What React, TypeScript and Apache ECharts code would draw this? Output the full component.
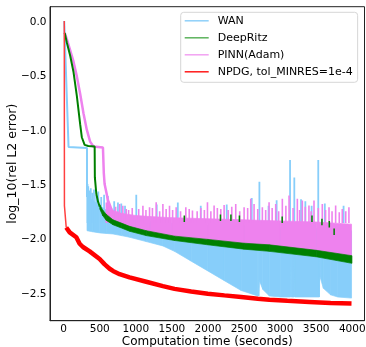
import React, { useEffect, useRef } from "react";
import * as echarts from "echarts";

const X_TICKS = [0, 500, 1000, 1500, 2000, 2500, 3000, 3500, 4000];
const Y_TICKS = [-2.5, -2.0, -1.5, -1.0, -0.5, 0.0];

const SERIES_NAMES = ["WAN", "DeepRitz", "PINN(Adam)", "NPDG, tol_MINRES=1e-4"];

// WAN (light blue)
const WAN_EARLY = [[7, 0.0], [67, -1.16], [323, -1.17], [323, -1.62]];
const WAN_T = [323, 400, 500, 590, 683, 800, 913, 1144, 1375, 1536, 1767, 1998, 2228, 2460, 2689, 2705, 2713, 2760, 2851, 3000, 3145, 3150, 3156, 3192, 3197, 3203, 3545, 3550, 3556, 3600, 3700, 3800, 3990];
const WAN_LO = [-1.93, -1.94, -1.95, -1.955, -1.96, -1.975, -1.99, -2.03, -2.07, -2.12, -2.21, -2.30, -2.39, -2.48, -2.53, -2.53, -2.39, -2.47, -2.53, -2.54, -2.54, -2.16, -2.54, -2.54, -2.16, -2.54, -2.54, -2.21, -2.36, -2.46, -2.52, -2.54, -2.55];
const WAN_HI = [-1.62, -1.65, -1.70, -1.74, -1.78, -1.80, -1.82, -1.84, -1.85, -1.86, -1.87, -1.88, -1.88, -1.89, -1.89, -1.89, -1.89, -1.89, -1.90, -1.90, -1.90, -1.90, -1.90, -1.90, -1.90, -1.90, -1.91, -1.91, -1.91, -1.91, -1.92, -1.92, -1.93];
const WAN_SPIKES = [[330, -1.50], [340, -1.52], [355, -1.56], [375, -1.54], [395, -1.58], [420, -1.55], [450, -1.60], [480, -1.57], [520, -1.62], [560, -1.60], [613, -1.61], [700, -1.66], [752, -1.67], [798, -1.68], [850, -1.70], [1006, -1.60], [1290, -1.69], [1582, -1.67], [1900, -1.70], [2260, -1.69], [2607, -1.63], [2713, -1.48], [2840, -1.70], [2952, -1.65], [3138, -1.28], [3197, -1.44], [3290, -1.64], [3350, -1.66], [3437, -1.70], [3529, -1.28], [3620, -1.68], [3880, -1.70]];

// DeepRitz (green)
const DR_EARLY = [[14, -0.11], [44, -0.2], [90, -0.32], [136, -0.47], [182, -0.69], [228, -0.95], [251, -1.07], [290, -1.14], [340, -1.15], [429, -1.155], [432, -1.44], [452, -1.59], [475, -1.66], [500, -1.71]];
const DR_T = [500, 540, 591, 683, 800, 913, 1144, 1536, 2000, 2500, 2851, 3500, 3996];
const DR_HI = [-1.69, -1.74, -1.78, -1.83, -1.86, -1.89, -1.93, -1.98, -2.01, -2.045, -2.06, -2.11, -2.16];
const DR_LO = [-1.73, -1.79, -1.835, -1.875, -1.905, -1.935, -1.975, -2.02, -2.06, -2.10, -2.12, -2.17, -2.23];
const DR_SPIKES = [[1672, -1.79, -1.85], [2173, -1.78, -1.84], [2318, -1.78, -1.84], [2436, -1.79, -1.85], [3029, -1.80, -1.86], [3442, -1.79, -1.85], [3580, -1.82, -1.88], [3682, -1.84, -1.90], [3749, -1.91, -1.97]];

// PINN(Adam) (violet)
const PINN_EARLY = [[14, -0.11], [44, -0.17], [90, -0.27], [136, -0.375], [182, -0.51], [228, -0.67], [274, -0.85], [320, -1.0], [366, -1.11], [412, -1.155], [544, -1.165], [556, -1.40], [567, -1.50], [614, -1.65], [660, -1.73]];
const PINN_T = [600, 640, 700, 800, 900, 1000, 1200, 1500, 2000, 2500, 3000, 3500, 3990];
const PINN_HI = [-1.62, -1.70, -1.75, -1.77, -1.78, -1.79, -1.80, -1.81, -1.82, -1.83, -1.84, -1.85, -1.87];
const PINN_LO = [-1.795, -1.82, -1.845, -1.87, -1.895, -1.915, -1.95, -1.985, -2.02, -2.055, -2.08, -2.12, -2.17];
const PINN_SPIKES = [[591, -1.67], [620, -1.70], [650, -1.72], [683, -1.745], [720, -1.71], [745, -1.75], [775, -1.684], [820, -1.70], [867, -1.73], [900, -1.74], [950, -1.72], [1040, -1.73], [1098, -1.70], [1140, -1.74], [1190, -1.714], [1230, -1.72], [1282, -1.668], [1330, -1.75], [1375, -1.684], [1420, -1.73], [1467, -1.70], [1510, -1.74], [1559, -1.714], [1620, -1.75], [1693, -1.714], [1740, -1.73], [1785, -1.745], [1850, -1.75], [1900, -1.72], [1950, -1.74], [1993, -1.668], [2040, -1.75], [2085, -1.699], [2130, -1.72], [2178, -1.73], [2224, -1.693], [2280, -1.74], [2330, -1.71], [2385, -1.684], [2440, -1.75], [2501, -1.714], [2550, -1.72], [2593, -1.637], [2639, -1.684], [2690, -1.73], [2754, -1.714], [2800, -1.74], [2847, -1.668], [2890, -1.72], [2939, -1.684], [2980, -1.75], [3031, -1.637], [3080, -1.70], [3124, -1.607], [3180, -1.72], [3239, -1.637], [3270, -1.74], [3308, -1.653], [3350, -1.71], [3400, -1.699], [3430, -1.75], [3470, -1.653], [3530, -1.72], [3585, -1.684], [3630, -1.74], [3678, -1.714], [3720, -1.75], [3770, -1.699], [3820, -1.76], [3862, -1.73], [3910, -1.75], [3954, -1.714]];

// NPDG (red)
const NPDG_EARLY = [[8, 0.0], [10, -1.70], [35, -1.90]];
const NPDG_MAIN = [[35, -1.90], [83, -1.945], [175, -1.99], [221, -2.05], [267, -2.08], [360, -2.12], [498, -2.19], [568, -2.24], [637, -2.28], [683, -2.30], [775, -2.33], [913, -2.36], [1144, -2.40], [1375, -2.44], [1536, -2.465], [1767, -2.49], [1998, -2.51], [2228, -2.525], [2460, -2.54], [2690, -2.555], [2851, -2.565], [3100, -2.575], [3405, -2.585], [3700, -2.595], [3990, -2.60]];

const C_WAN = "#87cefa";
const C_DR = "#008000";
const C_PINN = "#ee82ee";
const C_NPDG = "#ff0000";
const FONT = "DejaVu Sans";
const SPIKE_BASE = -1.86;

function bandSeries(ts: number[], lo: number[], hi: number[], color: string) {
  return {
    type: "custom",
    silent: true,
    clip: true,
    data: ts.map((t, i) => [t, lo[i], hi[i]]),
    encode: { x: 0, y: [1, 2] },
    renderItem: (params: any, api: any) => {
      const i = params.dataIndex;
      if (i >= ts.length - 1) return null;
      const pts = [
        api.coord([ts[i], lo[i]]),
        api.coord([ts[i + 1], lo[i + 1]]),
        api.coord([ts[i + 1], hi[i + 1]]),
        api.coord([ts[i], hi[i]]),
      ];
      return { type: "polygon", shape: { points: pts }, style: { fill: color, stroke: color, lineWidth: 0.7 } };
    },
  };
}

function spikeSeries(data: number[][], color: string, width: number, base: number | null) {
  return {
    type: "custom",
    silent: true,
    clip: true,
    data,
    encode: { x: 0, y: 1 },
    renderItem: (params: any, api: any) => {
      const t = api.value(0);
      const top = api.value(1);
      const bottom = base === null ? api.value(2) : base;
      const a = api.coord([t, bottom]);
      const b = api.coord([t, top]);
      return { type: "line", shape: { x1: a[0], y1: a[1], x2: b[0], y2: b[1] }, style: { stroke: color, lineWidth: width } };
    },
  };
}

function lineSeries(name: string, data: number[][], color: string, width: number) {
  return {
    type: "line",
    name,
    data,
    symbol: "none",
    silent: true,
    color,
    lineStyle: { color, width },
  };
}

export default function App() {
  const ref = useRef<HTMLDivElement>(null);
  useEffect(() => {
    if (!ref.current) return;
    const chart = echarts.init(ref.current, undefined, { renderer: "svg" });
    const fmt = (v: number) => (v < 0 ? "\u2212" : "") + Math.abs(v).toFixed(1);
    chart.setOption({
      animation: false,
      grid: { left: 50, right: 1.5, top: 6.7, bottom: 26.3, show: true, borderColor: "#222", borderWidth: 1, outerBoundsMode: "none" },
      legend: {
        left: 180.7,
        top: 12.3,
        orient: "vertical",
        icon: "rect",
        itemWidth: 24,
        itemHeight: 1.5,
        itemGap: 6,
        padding: [3, 5, 5, 4],
        borderColor: "#d6d6d6",
        borderWidth: 1,
        borderRadius: 3,
        backgroundColor: "#ffffff",
        textStyle: { fontFamily: FONT, fontSize: 11, color: "#000", padding: [0, 0, 0, 4] },
        data: [
          { name: SERIES_NAMES[0], itemStyle: { color: "#8fd0f9" } },
          { name: SERIES_NAMES[1], itemStyle: { color: "#5cb35c" } },
          { name: SERIES_NAMES[2], itemStyle: { color: "#f2a2f2" } },
          { name: SERIES_NAMES[3], itemStyle: { color: "#ff1a1a" } },
        ],
        selectedMode: false,
      },
      xAxis: {
        type: "value",
        min: -190,
        max: 4170,
        name: "Computation time (seconds)",
        nameLocation: "middle",
        nameGap: 14.5,
        nameMoveOverlap: false,
        nameTextStyle: { fontFamily: FONT, fontSize: 12, color: "#000", verticalAlign: "top", lineHeight: 12 },
        axisLine: { show: true, onZero: false, lineStyle: { color: "#222", width: 1 } },
        axisTick: { show: false },
        splitLine: { show: false },
        axisLabel: { customValues: X_TICKS, fontFamily: FONT, fontSize: 10.5, lineHeight: 10, color: "#000", margin: 2, formatter: (v: number) => String(v) },
      },
      yAxis: {
        type: "value",
        min: -2.758,
        max: 0.131,
        name: "log_10(rel L2 error)",
        nameLocation: "middle",
        nameGap: 32,
        nameMoveOverlap: false,
        nameTextStyle: { fontFamily: FONT, fontSize: 12.5, color: "#000" },
        axisLine: { show: true, onZero: false, lineStyle: { color: "#222", width: 1 } },
        axisTick: { show: false },
        splitLine: { show: false },
        axisLabel: { customValues: Y_TICKS, fontFamily: FONT, fontSize: 10.5, color: "#000", margin: 3.5, formatter: fmt },
      },
      series: [
        lineSeries(SERIES_NAMES[0], WAN_EARLY, C_WAN, 2),
        bandSeries(WAN_T, WAN_LO, WAN_HI, C_WAN),
        spikeSeries(WAN_SPIKES, C_WAN, 1.8, SPIKE_BASE),
        lineSeries(SERIES_NAMES[2], PINN_EARLY, C_PINN, 2.5),
        bandSeries(PINN_T, PINN_LO, PINN_HI, C_PINN),
        spikeSeries(PINN_SPIKES, C_PINN, 1.6, SPIKE_BASE),
        lineSeries(SERIES_NAMES[1], DR_EARLY, C_DR, 2),
        bandSeries(DR_T, DR_LO, DR_HI, C_DR),
        spikeSeries(DR_SPIKES, C_DR, 1.5, null),
        lineSeries(SERIES_NAMES[3], NPDG_EARLY, "#ff4040", 1.5),
        lineSeries("npdg-main", NPDG_MAIN, C_NPDG, 4.5),
      ],
    });
    return () => chart.dispose();
  }, []);
  return <div ref={ref} style={{ position: "fixed", left: 0, top: 0, width: 366, height: 347 }} />;
}
